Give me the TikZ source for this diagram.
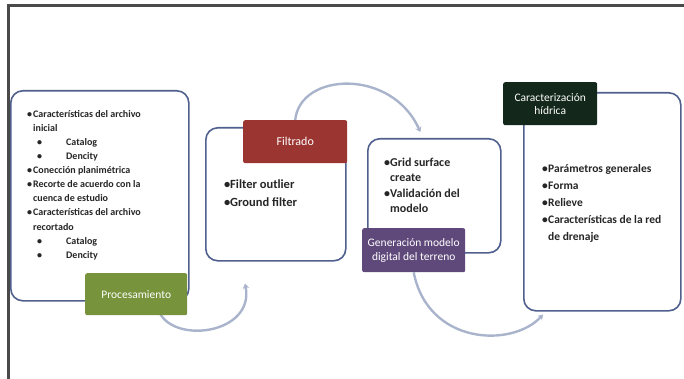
\documentclass[tikz,border=0pt]{standalone}
\usepackage{fontspec}
\setmainfont{Carlito}
\usetikzlibrary{
	positioning,
	arrows.meta,
	backgrounds
}
\definecolor{boxline}{HTML}{50608E}
\definecolor{arcline}{HTML}{A9B4CC}
\definecolor{procgreen}{HTML}{77933C}
\definecolor{filtred}{HTML}{9B3532}
\definecolor{genpurple}{HTML}{5F497A}
\definecolor{chardark}{HTML}{13281A}
\definecolor{framegray}{HTML}{4A4A4A}
\tikzset{
	stagebox/.style={
		draw=boxline, line width=1.6pt, rounded corners=12pt,
		fill=white, anchor=north west
	},
	stagelabel/.style={
		rounded corners=2pt, text=white, anchor=north west,
		align=center, inner sep=2pt
	},
	itemlist/.style={
		anchor=north west, align=left, inner sep=0pt, text=black!85
	},
	flow/.style={
		draw=arcline, line width=2.4pt,
		-{Stealth[length=5pt,width=6.5pt]}
	}
}
\newcommand{\itm}[1]{\makebox[6pt][l]{\textbullet}#1}
\newcommand{\cont}{\hspace*{6pt}}
\newcommand{\subitm}[1]{\hspace*{10pt}\makebox[29pt][l]{\textbullet}#1}

\begin{document}
\begin{tikzpicture}[x=1pt,y=-1pt]
		\useasboundingbox (0,0) rectangle (684,379);
		\draw[framegray, line width=3pt] (8,379) -- (8,6) -- (684,6);

		% content boxes
		\node[stagebox, minimum width=178pt, minimum height=210pt] (procbox) at (10,90) {};
		\node[stagebox, minimum width=140pt, minimum height=133pt] (filtbox) at (205,127) {};
		\node[stagebox, minimum width=133pt, minimum height=114pt] (genbox)  at (367,138) {};
		\node[stagebox, minimum width=157pt, minimum height=218pt] (charbox) at (523,92) {};

		% stage labels
		\node[stagelabel, fill=procgreen, minimum width=102pt, minimum height=42pt,
			font=\fontsize{11.5}{13}\selectfont] (proc) at (85,273) {Procesamiento};
		\node[stagelabel, fill=filtred, minimum width=104pt, minimum height=43pt,
			font=\fontsize{12}{13}\selectfont] (filt) at (243,120) {Filtrado};
		\node[stagelabel, fill=genpurple, minimum width=103pt, minimum height=44pt,
			font=\fontsize{11.5}{14}\selectfont] (gen) at (362,228) {Generación modelo\\digital del terreno};
		\node[stagelabel, fill=chardark, minimum width=94pt, minimum height=43pt,
			font=\fontsize{11.5}{13}\selectfont] (char) at (503,82) {Caracterización\\hídrica};

		% item lists
		\node[itemlist, font=\fontsize{10}{14.1}\selectfont\bfseries] (proclist) at (27,110) {%
			\itm{Características del archivo}\\
			\cont inicial\\
			\subitm{Catalog}\\
			\subitm{Dencity}\\
			\itm{Conección planimétrica}\\
			\itm{Recorte de acuerdo con la}\\
			\cont cuenca de estudio\\
			\itm{Características del archivo}\\
			\cont recortado\\
			\subitm{Catalog}\\
			\subitm{Dencity}};
		\node[itemlist, font=\fontsize{12.5}{18}\selectfont\bfseries] (filtlist) at (224,180) {%
			\itm{Filter outlier}\\
			\itm{Ground filter}};
		\node[itemlist, font=\fontsize{12}{15.3}\selectfont\bfseries] (genlist) at (384,158) {%
			\itm{Grid surface}\\
			\cont create\\
			\itm{Validación del}\\
			\cont modelo};
		\node[itemlist, font=\fontsize{11.5}{17}\selectfont\bfseries] (charlist) at (542,164) {%
			\itm{Parámetros generales}\\
			\itm{Forma}\\
			\itm{Relieve}\\
			\itm{Características de la red}\\
			\cont de drenaje};

		% curved arrows between the stages
		\coordinate (a1s) at ([xshift=22pt,yshift=6pt]proc.south);
		\coordinate (a1e) at ([xshift=40pt,yshift=-22pt]filtbox.south west);
		\coordinate (a2e) at ([xshift=-14pt,yshift=6pt]genbox.north);
		\coordinate (a3e) at ([xshift=20pt,yshift=-3pt]charbox.south west);
		\begin{scope}[on background layer]
			\draw[flow] (a1s) .. controls (170,345) and (255,335) .. (a1e);
			\draw[flow] (filt.north) .. controls (300,72) and (392,68) .. (a2e);
			\draw[flow] (gen.south) .. controls (428,345) and (512,348) .. (a3e);
		\end{scope}
	\end{tikzpicture}
\end{document}
